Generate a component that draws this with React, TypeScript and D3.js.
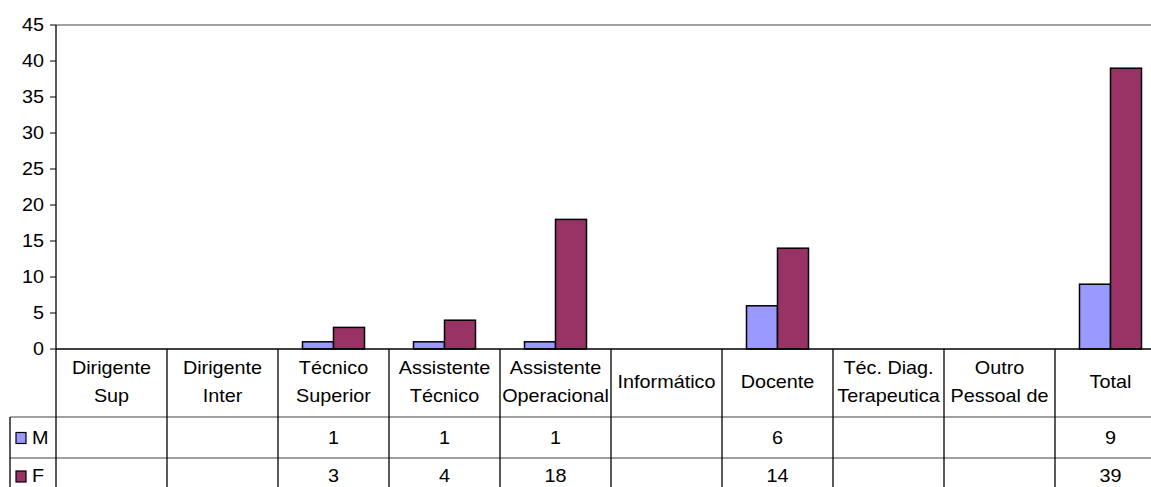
import React from "react";
import * as d3 from "d3";

const categories = [
  "Dirigente\nSup",
  "Dirigente\nInter",
  "Técnico\nSuperior",
  "Assistente\nTécnico",
  "Assistente\nOperacional",
  "Informático",
  "Docente",
  "Téc. Diag.\nTerapeutica",
  "Outro\nPessoal de",
  "Total",
];
const seriesNames = ["M", "F"];
const valuesM: (number | null)[] = [null, null, 1, 1, 1, null, 6, null, null, 9];
const valuesF: (number | null)[] = [null, null, 3, 4, 18, null, 14, null, null, 39];
const yTicks = [0, 5, 10, 15, 20, 25, 30, 35, 40, 45];
const colors = ["#9999FF", "#993366"];

const W = 1151;
const H = 487;
const left = 56;
const colW = 111;
const top = 25;
const base = 349;
const headerBottom = 417;
const rowH = 41;
const legendLeft = 10;
const font = "'Liberation Sans', Arial, sans-serif";
const fs = 18;
const stretch = 1.1;

function T({ x, y, anchor = "middle", children }: { x: number; y: number; anchor?: string; children: React.ReactNode }) {
  return (
    <text transform={`translate(${x},${y}) scale(${stretch},1)`} dy="0.35em" textAnchor={anchor} fontSize={fs} fill="#000">
      {children}
    </text>
  );
}

export default function App() {
  const series = [valuesM, valuesF];
  const x = d3.scaleBand<string>().domain(categories).range([left, left + colW * categories.length]).padding(0);
  const xs = d3.scaleBand<string>().domain(seriesNames).range([0, colW]).paddingInner(0).paddingOuter(0.79);
  const y = d3.scaleLinear().domain([0, 45]).range([base, top]);
  const rowCenters = [437.5, 476];

  return (
    <svg width={W} height={H} style={{ position: "absolute", left: 0, top: 0, background: "#fff" }} fontFamily={font}>
      <rect x={0} y={0} width={W} height={H} fill="#fff" />
      {/* top gridline */}
      <line x1={left} x2={W} y1={y(45)} y2={y(45)} stroke="#808080" strokeWidth={1.5} />
      {/* y ticks */}
      {yTicks.map((t) => (
        <g key={t}>
          <line x1={left - 6} x2={left} y1={y(t)} y2={y(t)} stroke="#000" />
          <T x={44} y={y(t)} anchor="end">{t}</T>
        </g>
      ))}
      {/* bars */}
      {categories.map((c, i) => (
        <g key={c}>
          {series.map((vals, s) => {
            const v = vals[i];
            if (v == null) return null;
            const bx = (x(c) as number) + (xs(seriesNames[s]) as number);
            return (
              <rect key={s} x={bx} y={y(v)} width={xs.bandwidth()} height={base - y(v)}
                fill={colors[s]} stroke="#000" strokeWidth={1.5} />
            );
          })}
        </g>
      ))}
      {/* table horizontal lines */}
      <line x1={left} x2={W} y1={base} y2={base} stroke="#000" strokeWidth={1.3} />
      <line x1={legendLeft} x2={W} y1={headerBottom} y2={headerBottom} stroke="#808080" strokeWidth={1.3} />
      <line x1={legendLeft} x2={W} y1={headerBottom + rowH} y2={headerBottom + rowH} stroke="#808080" strokeWidth={1.3} />
      {/* vertical lines */}
      <line x1={left} x2={left} y1={top} y2={H} stroke="#000" strokeWidth={1.3} />
      {categories.map((c, i) => i > 0 ? (
        <line key={c} x1={x(c)} x2={x(c)} y1={base} y2={H} stroke="#000" strokeWidth={1.3} />
      ) : null)}
      <line x1={legendLeft} x2={legendLeft} y1={headerBottom} y2={H} stroke="#000" strokeWidth={1.3} />
      {/* header labels */}
      {categories.map((c) => {
        const lines = c.split("\n");
        const cx = (x(c) as number) + colW / 2;
        const cy = (base + headerBottom) / 2 - 1.5;
        return (
          <g key={c}>
            {lines.map((l, j) => (
              <T key={j} x={cx} y={cy + (j - (lines.length - 1) / 2) * 28}>{l}</T>
            ))}
          </g>
        );
      })}
      {/* data rows */}
      {series.map((vals, s) => {
        const cy = rowCenters[s];
        return (
          <g key={s}>
            <rect x={16} y={cy - 5} width={10} height={11} fill={colors[s]} stroke="#000" strokeWidth={1.2} />
            <T x={32} y={cy} anchor="start">{seriesNames[s]}</T>
            {categories.map((c, i) => vals[i] == null ? null : (
              <T key={c} x={(x(c) as number) + colW / 2} y={cy}>{vals[i]}</T>
            ))}
          </g>
        );
      })}
    </svg>
  );
}
